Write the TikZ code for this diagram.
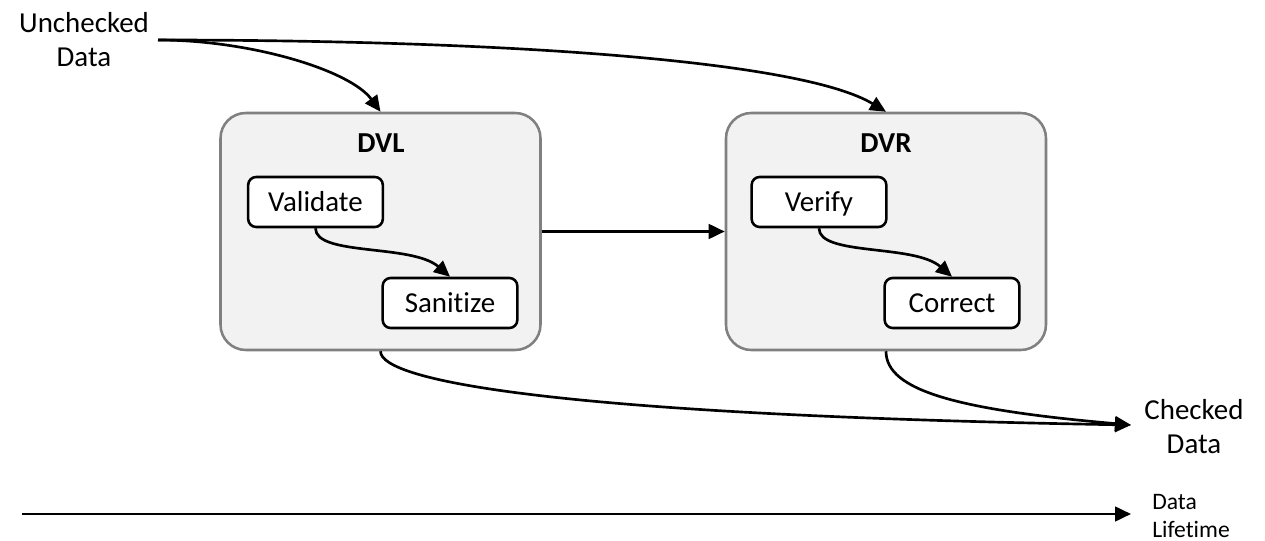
\documentclass[tikz,border=0pt]{standalone}
\usepackage{fontspec}
\setmainfont{Carlito}[Ligatures=NoCommon]
\usetikzlibrary{arrows.meta}

\definecolor{panelfill}{HTML}{F2F2F2}
\definecolor{panelline}{HTML}{808080}

\tikzset{
  panel/.style={draw=panelline, fill=panelfill, line width=1.9pt,
    rounded corners=19pt, minimum width=240pt, minimum height=177.75pt,
    inner sep=0pt},
  stepbox/.style={draw=black, fill=white, line width=1.9pt,
    rounded corners=6pt, minimum width=101pt, minimum height=37.5pt,
    inner sep=0pt, text height=15pt, text depth=0pt,
    font=\fontsize{21.7}{25.5}\selectfont},
  paneltitle/.style={font=\fontsize{21.7}{25.5}\selectfont\bfseries, inner sep=0pt},
  biglabel/.style={font=\fontsize{21.7}{25.5}\selectfont, align=center, inner sep=0pt},
  smalllabel/.style={font=\fontsize{17.7}{21}\selectfont, align=left, inner sep=0pt},
  flow/.style={line width=2pt, -{Triangle[length=12pt,width=11pt]}},
}

\begin{document}
\begin{tikzpicture}[x=0.75pt, y=-0.75pt]
  \useasboundingbox (0,0) rectangle (1265,541);

  % source and sink labels
  \node[biglabel] (unchecked) at (84,40) {Unchecked\\Data};
  \node[biglabel] (checked) at (1194,427) {Checked\\Data};
  \node[smalllabel, anchor=west] (lifetime) at (1152,516) {Data\\Lifetime};

  \coordinate (src) at (158,40);
  \coordinate (sink) at (1131,425);

  % the two stages
  \node[panel] (dvl) at (380.5,231.5) {};
  \node[panel] (dvr) at (886,231.5) {};
  \node[paneltitle] (dvltitle) at (381,143) {DVL};
  \node[paneltitle] (dvrtitle) at (886,143) {DVR};

  \node[stepbox] (validate) at (315.5,202) {Validate};
  \node[stepbox] (sanitize) at (450,303) {Sanitize};
  \node[stepbox] (verify) at (819,202) {Verify};
  \node[stepbox] (correct) at (952,303) {Correct};

  % incoming data
  \draw[flow] (src) .. controls (250,40) and (350,70) .. (dvl.north);
  \draw[flow] (src) .. controls (500,40) and (800,60) .. (dvr.north);

  % steps inside each stage
  \draw[flow] (validate.south) .. controls +(0,28) and +(-38,-33) .. (sanitize.north);
  \draw[flow] (verify.south) .. controls +(0,28) and +(-38,-33) .. (correct.north);

  % stage to stage
  \draw[flow] (dvl) -- (dvr);

  % outgoing data
  \draw[flow] (dvl.south) .. controls +(0,30) and (560,415) .. (sink);
  \draw[flow] (dvr.south) .. controls +(0,40) and (960,410) .. (sink);

  % time axis
  \coordinate (tstart) at (22,514);
  \coordinate (tend) at (1131,514);
  \draw[flow] (tstart) -- (tend);
\end{tikzpicture}
\end{document}
